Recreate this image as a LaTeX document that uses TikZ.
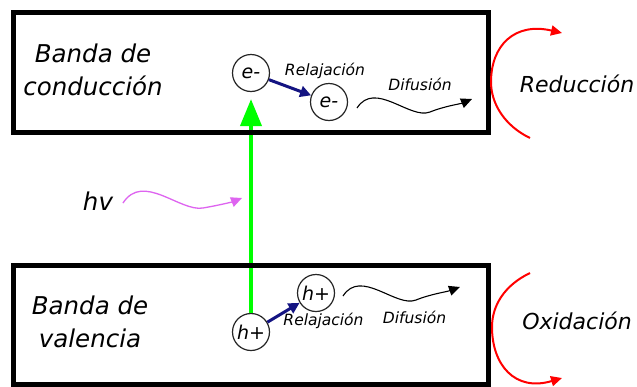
\documentclass[tikz,border=0pt]{standalone}
\usepackage{fontspec}
\setmainfont{DejaVu Sans}
\usetikzlibrary{arrows.meta}
\definecolor{relaxblue}{RGB}{20,20,130}
\definecolor{photonviolet}{RGB}{222,100,240}
\definecolor{excitegreen}{RGB}{0,255,0}
\begin{document}
\begin{tikzpicture}[x=1pt,y=-1pt,
  band/.style={draw=black,line width=5pt},
  bigtext/.style={font=\itshape\fontsize{24.5}{32.5}\selectfont,inner sep=0pt},
  midtext/.style={font=\itshape\fontsize{22}{26}\selectfont,inner sep=0pt},
  smalltext/.style={font=\itshape\fontsize{15.5}{18}\selectfont,inner sep=0pt},
  particle/.style={circle,draw=black!85,line width=1.2pt,minimum size=37pt,inner sep=0pt,
    font=\itshape\fontsize{19}{19}\selectfont},
  excitation/.style={draw=excitegreen,line width=4pt,
    -{Triangle[length=27pt,width=21pt]},shorten >=7pt},
  relax/.style={draw=relaxblue,line width=3pt,-{Triangle[length=11pt,width=11pt]}},
  diffuse/.style={draw=black,line width=1.1pt,-{Triangle[length=11pt,width=10pt]}},
  photon/.style={draw=photonviolet,line width=1.3pt,-{Triangle[length=11pt,width=10pt]}},
  redox/.style={draw=red,line width=2pt,-{Triangle[length=11pt,width=10pt]}}]

\useasboundingbox[fill=white] (0,0) rectangle (637,386);

% charge carriers
\node[particle] (e1) at (251,73) {e-};
\node[particle] (e2) at (329,102) {e-};
\node[particle] (h1) at (251,332) {h+};
\node[particle] (h2) at (316,293) {h+};

% photo-excitation, drawn under the band borders
\draw[excitation] (h1) -- (e1);

% conduction and valence bands
\draw[band] (13.5,12.5) rectangle (488.5,132.5);
\draw[band] (13.5,265.5) rectangle (488.5,384);

% band labels
\node[bigtext,align=center] (cb) at (93,69.7) {Banda de\\conducción};
\node[bigtext,align=center] (vb) at (90,322) {Banda de\\valencia};

% relaxation
\draw[relax] (e1) -- (e2);
\draw[relax] (h1) -- (h2);
\node[smalltext,anchor=base] (relc) at (325,75) {Relajación};
\node[smalltext,anchor=base] (relv) at (323.5,325) {Relajación};

% diffusion
\coordinate (dt0) at (357,108);
\coordinate (dt1) at (472,99);
\draw[diffuse] (dt0) .. controls (375,80) and (410,120) .. (430,112)
  .. controls (445,106) and (460,104) .. (dt1);
\node[smalltext,anchor=base] (difc) at (420,90) {Difusión};

\coordinate (db0) at (343,296);
\coordinate (db1) at (460,287);
\draw[diffuse] (db0) .. controls (361,268) and (396,308) .. (416,300)
  .. controls (431,294) and (446,292) .. (db1);
\node[smalltext,anchor=base] (difv) at (414.5,323) {Difusión};

% incoming photon
\node[bigtext,anchor=base] (hv) at (98,210.5) {hv};
\coordinate (hv0) at (123,203);
\coordinate (hv1) at (242,198);
\draw[photon] (hv0) .. controls (143,172) and (180,212) .. (203,208)
  .. controls (220,205) and (232,202) .. (hv1);

% reduction and oxidation
\coordinate (ra0) at (530,138);
\coordinate (ra1) at (562,33);
\draw[redox] (ra0) .. controls (505,126) and (491,104) .. (491,82)
  .. controls (491,45) and (515,22) .. (ra1);
\node[midtext,anchor=base] (red) at (577,92) {Reducción};

\coordinate (oa0) at (530,273);
\coordinate (oa1) at (562,378);
\draw[redox] (oa0) .. controls (505,285) and (492,305) .. (492,327)
  .. controls (492,365) and (515,392) .. (oa1);
\node[midtext,anchor=base] (ox) at (577,329.5) {Oxidación};

\end{tikzpicture}
\end{document}
